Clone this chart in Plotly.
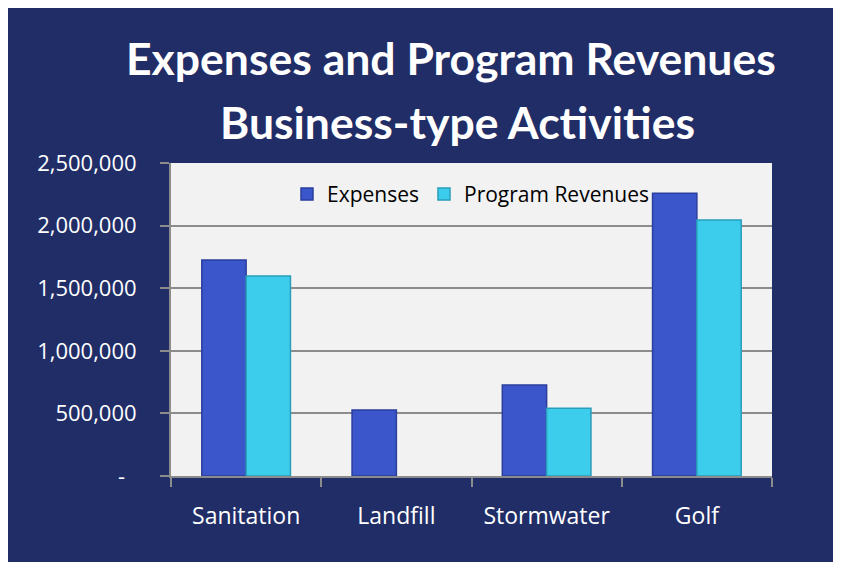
import plotly.graph_objects as go

categories = ["Sanitation", "Landfill", "Stormwater", "Golf"]
expenses = [1725000, 527000, 727000, 2258000]
program_revenues = [1597000, None, 541000, 2045000]
tick_values = [0, 500000, 1000000, 1500000, 2000000, 2500000]
tick_labels = ["-\u00a0\u00a0", "500,000", "1,000,000", "1,500,000", "2,000,000", "2,500,000"]
title_lines = ["Expenses and Program Revenues", "Business-type Activities"]

NAVY = "#212D67"
FONT = "Open Sans"

fig = go.Figure()
fig.add_trace(go.Bar(
    name="Expenses", x=categories, y=expenses,
    marker=dict(color="#3B56CA", line=dict(color="#2B3E9E", width=1.5)),
))
fig.add_trace(go.Bar(
    name="Program Revenues", x=categories, y=program_revenues,
    marker=dict(color="#3CCDEC", line=dict(color="#2A9DBA", width=1.5)),
))

fig.update_layout(
    width=833, height=554,
    paper_bgcolor=NAVY,
    plot_bgcolor="#F2F2F2",
    margin=dict(l=163, r=69, t=155, b=86, autoexpand=False),
    barmode="group", bargap=0.41, bargroupgap=0,
    legend=dict(
        orientation="h", x=0.193, xanchor="left", y=0.9, yanchor="middle",
        bgcolor="rgba(0,0,0,0)", font=dict(family=FONT, size=21, color="black"),
        itemwidth=30, traceorder="normal",
    ),
    showlegend=True,
    font=dict(family=FONT, color="white"),
)
title_font = dict(family="Lato", size=44.5, color="white", weight="bold")
fig.add_annotation(text=title_lines[0], xref="paper", yref="paper", x=0.4667, y=1.338,
                   xanchor="center", yanchor="middle", showarrow=False, font=title_font)
fig.add_annotation(text=title_lines[1], xref="paper", yref="paper", x=0.4759, y=1.134,
                   xanchor="center", yanchor="middle", showarrow=False, font=title_font)

fig.update_yaxes(
    range=[0, 2500000], tickvals=tick_values, ticktext=tick_labels,
    showgrid=True, gridcolor="#8C8C8C", gridwidth=1.5,
    showline=True, linecolor="#8C8C8C", linewidth=2,
    ticks="outside", ticklen=9, tickcolor="#8C8C8C", tickwidth=2,
    ticklabelstandoff=19,
    tickfont=dict(family=FONT, size=22, color="white"),
    zeroline=False,
)
fig.update_xaxes(
    showline=True, linecolor="#8C8C8C", linewidth=2,
    ticks="outside", ticklen=9, tickcolor="#8C8C8C", tickwidth=2,
    tickson="boundaries", ticklabelstandoff=18,
    tickfont=dict(family=FONT, size=23, color="white"),
)

fig.write_html("out.html")
